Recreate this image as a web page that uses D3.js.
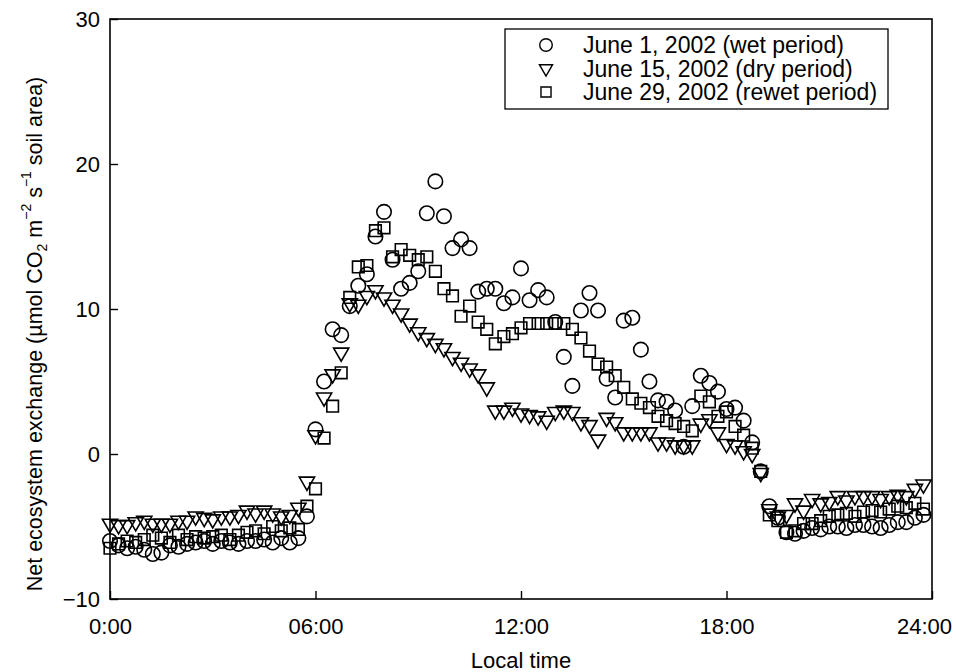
<!DOCTYPE html>
<html>
<head>
<meta charset="utf-8">
<script src="https://cdnjs.cloudflare.com/ajax/libs/d3/7.8.5/d3.min.js"></script>
<style>
  body { margin: 0; background: #fff; }
  svg text { font-family: "Liberation Sans", Arial, Helvetica, sans-serif; fill: #000; }
</style>
</head>
<body>
<div id="chart"></div>
<script>
// measurements every 15 minutes, 0:00 .. 23:45
var sampleTimes = d3.range(96).map(function(i) { return i * 0.25; });

var xTicks = [0, 6, 12, 18, 24];
var xTickLabels = ["0:00", "06:00", "12:00", "18:00", "24:00"];
var yTicks = [-10, 0, 10, 20, 30];

var seriesNames = ["June 1, 2002 (wet period)", "June 15, 2002 (dry period)", "June 29, 2002 (rewet period)"];

// June 1 (wet) - circles
var wetValues = [
  -6.0, -6.3, -6.5, -6.4, -6.6, -6.9, -6.8, -6.3, -6.4, -6.2, -6.1, -6.0,
  -6.2, -6.0, -6.1, -6.2, -6.0, -6.0, -5.9, -6.1, -5.8, -6.1, -5.8, -4.3,
  1.7, 5.0, 8.6, 8.2, 10.2, 11.6, 12.4, 15.0, 16.7, 13.4, 11.4, 11.8,
  12.6, 16.6, 18.8, 16.4, 14.2, 14.8, 14.2, 11.2, 11.4, 11.4, 10.4, 10.8,
  12.8, 10.6, 11.3, 10.8, 9.1, 6.7, 4.7, 9.9, 11.1, 9.9, 5.2, 3.9,
  9.2, 9.4, 7.2, 5.0, 3.7, 3.6, 3.0, 0.5, 3.3, 5.4, 4.9, 4.3,
  3.1, 3.2, 2.3, 0.8, -1.2, -3.6, -4.4, -5.4, -5.5, -5.3, -5.1, -5.2,
  -5.0, -5.0, -5.1, -4.9, -4.9, -5.0, -5.1, -4.9, -4.7, -4.7, -4.4, -4.2
];

// June 15 (dry) - triangles
var dryValues = [
  -4.8, -4.9, -4.9, -4.7, -4.6, -4.8, -4.8, -4.8, -4.6, -4.6, -4.3, -4.4,
  -4.5, -4.3, -4.3, -4.2, -3.9, -4.1, -3.9, -4.1, -4.3, -4.2, -3.7, -1.9,
  1.3, 3.9, 5.5, 7.0, 10.4, 10.3, 10.9, 11.3, 10.8, 10.3, 9.7, 9.0,
  8.4, 8.0, 7.6, 7.3, 6.7, 6.3, 5.9, 5.5, 4.6, 3.0, 3.0, 3.2,
  2.8, 2.7, 2.6, 2.3, 2.9, 3.0, 2.9, 2.2, 2.0, 1.0, 2.5, 2.2,
  1.5, 1.5, 1.5, 1.5, 0.8, 0.8, 0.6, 0.6, 0.6, 2.1, 2.4, 1.5,
  0.7, 0.6, 0.2, 0.0, -1.3, -3.8, -4.3, -4.2, -3.4, -3.9, -3.1, -3.4,
  -3.3, -2.9, -3.2, -2.9, -2.9, -2.9, -3.1, -2.9, -2.8, -2.9, -2.4, -2.1
];

// June 29 (rewet) - squares
var rewetValues = [
  -6.5, -6.2, -6.0, -6.1, -5.9, -5.6, -5.8, -6.1, -5.6, -5.9, -5.7, -5.8,
  -5.7, -5.6, -5.9, -5.6, -5.4, -5.3, -5.5, -5.0, -5.3, -5.1, -5.2, -3.6,
  -2.4, 1.1, 3.3, 5.6, 10.8, 12.9, 13.0, 15.4, 15.6, 13.6, 14.1, 13.7,
  13.4, 13.6, 12.6, 11.4, 10.9, 9.5, 10.2, 9.1, 8.6, 7.6, 8.1, 8.3,
  8.7, 9.0, 9.0, 9.0, 9.0, 9.0, 8.6, 8.0, 7.1, 6.2, 6.0, 5.4,
  4.6, 3.8, 3.5, 3.2, 2.6, 2.3, 2.1, 1.9, 1.6, 4.0, 3.6, 2.6,
  2.9, 1.9, 1.3, 0.4, -1.2, -4.2, -4.6, -5.4, -5.3, -4.8, -4.8, -4.6,
  -4.3, -4.2, -4.1, -4.3, -4.0, -3.9, -4.0, -3.8, -3.6, -3.7, -3.4, -3.8
];

var width = 956, height = 672;
var margin = {top: 19, right: 24, bottom: 73, left: 110};

var svg = d3.select("#chart").append("svg")
  .attr("width", width)
  .attr("height", height);

var x = d3.scaleLinear().domain([0, 24]).range([margin.left, width - margin.right]);
var y = d3.scaleLinear().domain([-10, 30]).range([height - margin.bottom, margin.top]);

var markerSymbols = [d3.symbolCircle, d3.symbolTriangle, d3.symbolSquare];
var markerSizes = [165, 100, 135];
var markerRotate = [0, 180, 0];

// frame
svg.append("rect")
  .attr("x", x(0)).attr("y", y(30))
  .attr("width", x(24) - x(0)).attr("height", y(-10) - y(30))
  .attr("fill", "none").attr("stroke", "#000").attr("stroke-width", 1.6);

var xAxis = svg.append("g")
  .attr("transform", "translate(0," + y(-10) + ")")
  .call(d3.axisBottom(x).tickValues(xTicks).tickSize(-8).tickPadding(19)
    .tickFormat(function(d, i) { return xTickLabels[i]; }));

var yAxis = svg.append("g")
  .attr("transform", "translate(" + x(0) + ",0)")
  .call(d3.axisLeft(y).tickValues(yTicks).tickSize(-8).tickPadding(10));

[xAxis, yAxis].forEach(function(ax) {
  ax.select(".domain").remove();
  ax.selectAll(".tick line").attr("stroke", "#000").attr("stroke-width", 1.4);
  ax.selectAll(".tick text").style("font-size", "22px").attr("fill", "#000");
});
// last label sits a bit inside so it stays on the page
xAxis.selectAll(".tick text").filter(function(d) { return d === 24; })
  .attr("x", -8);

// data series
var allSeries = [wetValues, dryValues, rewetValues];
allSeries.forEach(function(values, i) {
  var pts = values.map(function(v, k) { return {t: sampleTimes[k], v: v}; });
  svg.append("g").selectAll("path")
    .data(pts)
    .enter()
    .append("path")
      .attr("d", d3.symbol().type(markerSymbols[i]).size(markerSizes[i]))
      .attr("transform", function(d) {
        return "translate(" + x(d.t) + "," + y(d.v) + ") rotate(" + markerRotate[i] + ")";
      })
      .attr("fill", "none")
      .attr("stroke", "#000")
      .attr("stroke-width", 1.6);
});

// legend
var legend = svg.append("g");
legend.append("rect")
  .attr("x", 505).attr("y", 29).attr("width", 383).attr("height", 80)
  .attr("fill", "#fff").attr("stroke", "#000").attr("stroke-width", 1.3);

seriesNames.forEach(function(name, i) {
  var ly = 45 + i * 23.5;
  legend.append("path")
    .attr("d", d3.symbol().type(markerSymbols[i]).size(markerSizes[i] * 0.75))
    .attr("transform", "translate(546," + ly + ") rotate(" + markerRotate[i] + ")")
    .attr("fill", "none").attr("stroke", "#000").attr("stroke-width", 1.4);
  legend.append("text")
    .attr("x", 583).attr("y", ly)
    .attr("dy", "0.36em")
    .style("font-size", "23px")
    .text(name);
});

// axis titles
svg.append("text")
  .attr("x", x(12)).attr("y", 668)
  .attr("text-anchor", "middle")
  .style("font-size", "22px")
  .text("Local time");

var yTitle = svg.append("text")
  .attr("transform", "translate(42,334) rotate(-90)")
  .attr("text-anchor", "middle")
  .style("font-size", "21.5px");
yTitle.append("tspan").text("Net ecosystem exchange (\u00b5mol CO");
yTitle.append("tspan").attr("dy", 5).style("font-size", "14px").text("2");
yTitle.append("tspan").attr("dy", -5).text(" m");
yTitle.append("tspan").attr("dy", -11).style("font-size", "14px").text("\u22122");
yTitle.append("tspan").attr("dy", 11).text(" s");
yTitle.append("tspan").attr("dy", -11).style("font-size", "14px").text("\u22121");
yTitle.append("tspan").attr("dy", 11).text(" soil area)");
</script>
</body>
</html>
